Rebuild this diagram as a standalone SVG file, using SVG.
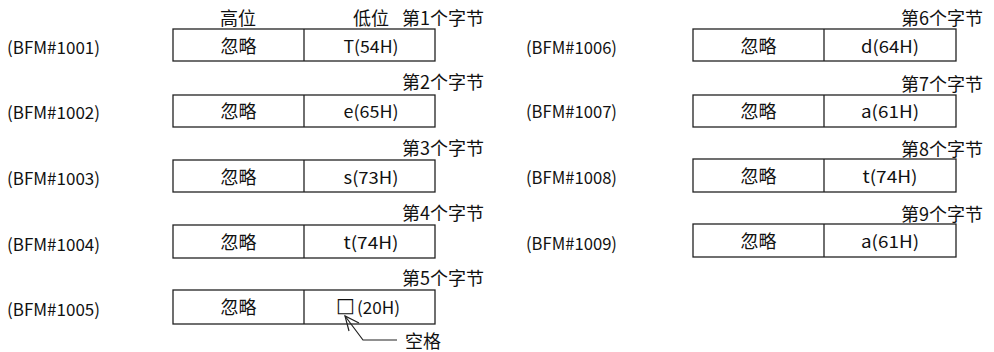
<svg xmlns="http://www.w3.org/2000/svg" width="994" height="352" viewBox="0 0 994 352">
<defs>
<style>
.bg{fill:#ffffff}
.box{fill:#ffffff;stroke:#222;stroke-width:1.3}
.div{stroke:#222;stroke-width:1.3}
.cjk{font-family:"Noto Sans CJK SC","Noto Sans",sans-serif;font-size:18px;fill:#111;dominant-baseline:central}
.lat{font-family:"Noto Sans CJK SC","Noto Sans",sans-serif;font-size:17px;fill:#111;dominant-baseline:central}
.sq{font-family:"DejaVu Sans",sans-serif;font-size:20px;fill:#111;dominant-baseline:central;text-anchor:middle}
.mid{text-anchor:middle}
.end{text-anchor:end}
.ln{fill:none;stroke:#222;stroke-width:1.2}
</style>
</defs>
<rect class="bg" x="0" y="0" width="994" height="352"/>
<g id="header">
<text class="cjk mid" x="238" y="17">高位</text>
<text class="cjk mid" x="371" y="17">低位</text>
</g>
<g id="bfm1001">
<text class="cjk end" x="484" y="17">第1个字节</text>
<text class="lat" x="7" y="46" textLength="93" lengthAdjust="spacingAndGlyphs">(BFM#1001)</text>
<rect class="box" x="173" y="29" width="262" height="32"/>
<line class="div" x1="304" y1="29" x2="304" y2="61"/>
<text class="cjk mid" x="238.5" y="45">忽略</text>
<text class="lat mid" x="371" y="45" textLength="55" lengthAdjust="spacingAndGlyphs">T(54H)</text>
</g>
<g id="bfm1002">
<text class="cjk end" x="484" y="81">第2个字节</text>
<text class="lat" x="7" y="111" textLength="93" lengthAdjust="spacingAndGlyphs">(BFM#1002)</text>
<rect class="box" x="173" y="95" width="262" height="32"/>
<line class="div" x1="304" y1="95" x2="304" y2="127"/>
<text class="cjk mid" x="238.5" y="110">忽略</text>
<text class="lat mid" x="371" y="110" textLength="55" lengthAdjust="spacingAndGlyphs">e(65H)</text>
</g>
<g id="bfm1003">
<text class="cjk end" x="484" y="147">第3个字节</text>
<text class="lat" x="7" y="177" textLength="93" lengthAdjust="spacingAndGlyphs">(BFM#1003)</text>
<rect class="box" x="173" y="160" width="262" height="32"/>
<line class="div" x1="304" y1="160" x2="304" y2="192"/>
<text class="cjk mid" x="238.5" y="176">忽略</text>
<text class="lat mid" x="371" y="176" textLength="55" lengthAdjust="spacingAndGlyphs">s(73H)</text>
</g>
<g id="bfm1004">
<text class="cjk end" x="484" y="212">第4个字节</text>
<text class="lat" x="7" y="243" textLength="93" lengthAdjust="spacingAndGlyphs">(BFM#1004)</text>
<rect class="box" x="173" y="225" width="262" height="33"/>
<line class="div" x1="304" y1="225" x2="304" y2="258"/>
<text class="cjk mid" x="238.5" y="241">忽略</text>
<text class="lat mid" x="371" y="241" textLength="55" lengthAdjust="spacingAndGlyphs">t(74H)</text>
</g>
<g id="bfm1005">
<text class="cjk end" x="484" y="277">第5个字节</text>
<text class="lat" x="7" y="308" textLength="93" lengthAdjust="spacingAndGlyphs">(BFM#1005)</text>
<rect class="box" x="173" y="290" width="262" height="34"/>
<line class="div" x1="304" y1="290" x2="304" y2="324"/>
<text class="cjk mid" x="238.5" y="306">忽略</text>
<text class="sq" x="345.5" y="305">□</text>
<text class="lat" x="357" y="306" textLength="43" lengthAdjust="spacingAndGlyphs">(20H)</text>
</g>
<g id="kongge">
<text class="cjk" x="405" y="340">空格</text>
</g>
<g id="bfm1006">
<text class="cjk end" x="983" y="17">第6个字节</text>
<text class="lat" x="526" y="46" textLength="91" lengthAdjust="spacingAndGlyphs">(BFM#1006)</text>
<rect class="box" x="693" y="29" width="263" height="32"/>
<line class="div" x1="824" y1="29" x2="824" y2="61"/>
<text class="cjk mid" x="758.5" y="45">忽略</text>
<text class="lat mid" x="890" y="45" textLength="58" lengthAdjust="spacingAndGlyphs">d(64H)</text>
</g>
<g id="bfm1007">
<text class="cjk end" x="983" y="83">第7个字节</text>
<text class="lat" x="526" y="110" textLength="91" lengthAdjust="spacingAndGlyphs">(BFM#1007)</text>
<rect class="box" x="693" y="95" width="263" height="32"/>
<line class="div" x1="824" y1="95" x2="824" y2="127"/>
<text class="cjk mid" x="758.5" y="110">忽略</text>
<text class="lat mid" x="890" y="110" textLength="58" lengthAdjust="spacingAndGlyphs">a(61H)</text>
</g>
<g id="bfm1008">
<text class="cjk end" x="983" y="148">第8个字节</text>
<text class="lat" x="526" y="176" textLength="91" lengthAdjust="spacingAndGlyphs">(BFM#1008)</text>
<rect class="box" x="693" y="159" width="263" height="33"/>
<line class="div" x1="824" y1="159" x2="824" y2="192"/>
<text class="cjk mid" x="758.5" y="175">忽略</text>
<text class="lat mid" x="890" y="175" textLength="55" lengthAdjust="spacingAndGlyphs">t(74H)</text>
</g>
<g id="bfm1009">
<text class="cjk end" x="983" y="213">第9个字节</text>
<text class="lat" x="526" y="242" textLength="91" lengthAdjust="spacingAndGlyphs">(BFM#1009)</text>
<rect class="box" x="693" y="224" width="263" height="33"/>
<line class="div" x1="824" y1="224" x2="824" y2="257"/>
<text class="cjk mid" x="758.5" y="240">忽略</text>
<text class="lat mid" x="890" y="240" textLength="58" lengthAdjust="spacingAndGlyphs">a(61H)</text>
</g>
<g id="connectors">
<polyline class="ln" points="397,340 363,340 345,316"/>
<polyline class="ln" points="349,331 345,316 359,323"/>
</g>
</svg>
